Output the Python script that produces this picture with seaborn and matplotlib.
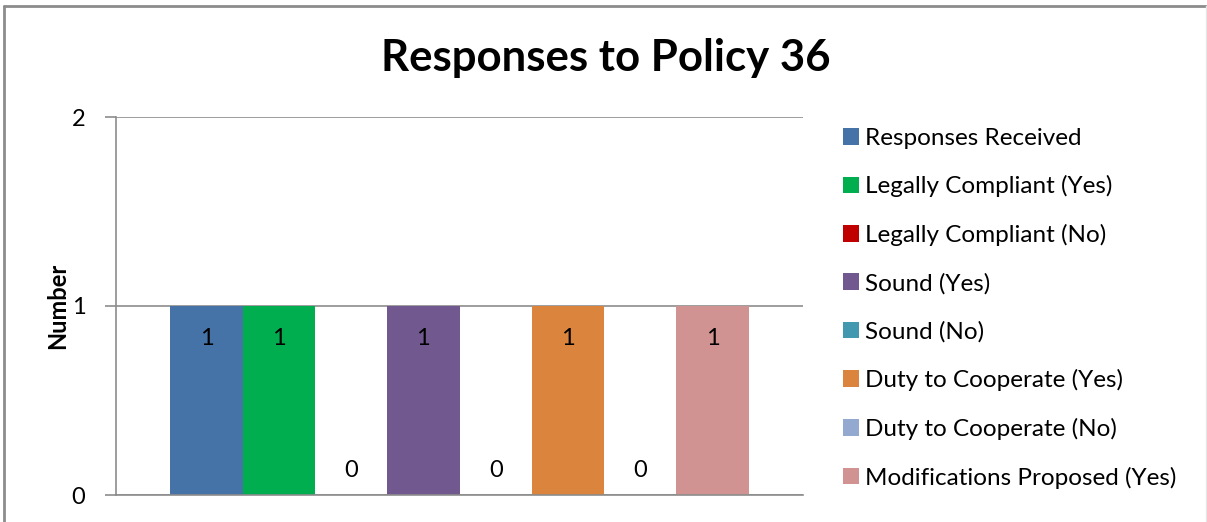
import matplotlib
matplotlib.use("Agg")
import matplotlib.pyplot as plt
import seaborn as sns
from matplotlib.lines import Line2D
from matplotlib.patches import Patch

categories = [
    "Responses Received",
    "Legally Compliant (Yes)",
    "Legally Compliant (No)",
    "Sound (Yes)",
    "Sound (No)",
    "Duty to Cooperate (Yes)",
    "Duty to Cooperate (No)",
    "Modifications Proposed (Yes)",
]
values = [1, 1, 0, 1, 0, 1, 0, 1]
colors = ["#4572A7", "#00AE4F", "#C00000", "#71588F",
          "#4198AF", "#DB843D", "#93A9CF", "#D19392"]
y_ticks = [0, 1, 2]

sns.set_theme(style="white")
plt.rcParams["font.family"] = ["Lato", "DejaVu Sans"]
plt.rcParams["text.color"] = "black"
plt.rcParams["axes.labelcolor"] = "black"
plt.rcParams["ytick.color"] = "black"

W, H = 1207, 522
fig = plt.figure(figsize=(W / 100, H / 100), dpi=100)
ax = fig.add_axes([116 / W, 1 - 495 / H, (803 - 116) / W, (495 - 117) / H])

sns.barplot(x=categories, y=values, hue=categories, palette=colors,
            width=1.0, legend=False, saturation=1, linewidth=0, ax=ax)

ax.set_xlim(-1.25, 8.25)
ax.set_ylim(0, 2)
ax.set_yticks(y_ticks)
ax.set_yticklabels([str(t) for t in y_ticks], fontsize=17)
ax.set_xticks([])
ax.set_xlabel("")
ax.set_ylabel("Number", fontsize=17, fontweight="bold", labelpad=2)
ax.yaxis.grid(True, color="#8C8C8C", linewidth=1.2)
ax.set_axisbelow(True)
ax.tick_params(axis="y", left=True, length=8, width=1.2, color="#8C8C8C",
               labelcolor="black", pad=14)
for side in ["top", "right"]:
    ax.spines[side].set_visible(False)
for side in ["left", "bottom"]:
    ax.spines[side].set_color("#8C8C8C")
    ax.spines[side].set_linewidth(1.2)

# value labels
for i, v in enumerate(values):
    if v > 0:
        ax.text(i, v - 0.17, str(v), ha="center", va="center", fontsize=17)
    else:
        ax.text(i, 0.13, str(v), ha="center", va="center", fontsize=17)

fig.text(606 / W, 1 - 58 / H, "Responses to Policy 36", ha="center", va="center",
         fontsize=31.5, fontweight="bold")

handles = [Patch(facecolor=c, edgecolor="none") for c in colors]
fig.legend(handles, categories, loc="upper left",
           bbox_to_anchor=(833 / W, 1 - 118 / H), frameon=False,
           fontsize=17.5, handlelength=0.68, handleheight=0.68,
           handletextpad=0.24, labelspacing=1.095, borderaxespad=0)

# outer chart border
fig.add_artist(Line2D([3.5 / W, 3.5 / W], [0, 1 - 5.5 / H], transform=fig.transFigure,
                      color="#8C8C8C", linewidth=2))
fig.add_artist(Line2D([3.5 / W, 1205.5 / W], [1 - 5.5 / H, 1 - 5.5 / H],
                      transform=fig.transFigure, color="#8C8C8C", linewidth=2))
fig.add_artist(Line2D([1205.5 / W, 1205.5 / W], [0, 1 - 5.5 / H], transform=fig.transFigure,
                      color="#E6E6E6", linewidth=1))

fig.savefig("out.png", dpi=100)
